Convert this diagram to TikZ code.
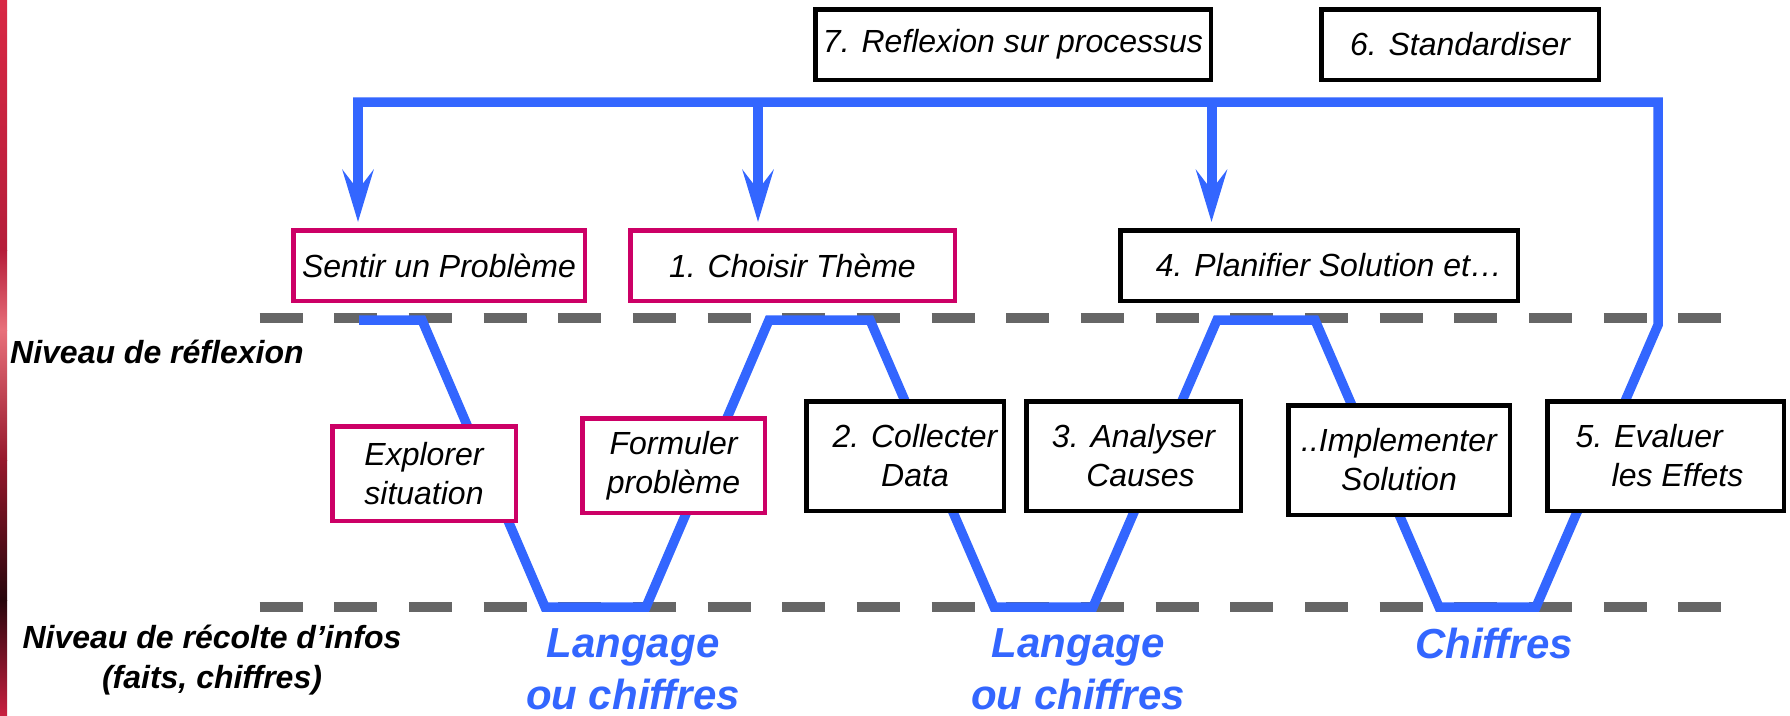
\documentclass[tikz,border=0pt]{standalone}
\usepackage{fontspec}
\setmainfont{Liberation Sans}
\usetikzlibrary{arrows.meta}
\definecolor{myblue}{HTML}{3366FF}
\definecolor{mypink}{HTML}{CC0066}
\definecolor{dashgray}{HTML}{666666}
\begin{document}
\begin{tikzpicture}[x=1pt,y=-1pt,
  boxtext/.style={font=\fontsize{32}{39}\selectfont\itshape},
  blackbox/.style={draw=black, line width=4.5pt, fill=white, inner sep=0pt, align=center, boxtext},
  pinkbox/.style={blackbox, draw=mypink},
  wave/.style={draw=myblue, line width=9.5pt, line join=miter},
  arr/.style={draw=myblue, line width=10pt, -{Stealth[length=52pt,width=31pt,inset=20pt]}, shorten >=6pt},
  levelline/.style={draw=dashgray, line width=10pt, dash pattern=on 43pt off 31.68pt},
  levellabel/.style={font=\fontsize{32}{40}\selectfont\bfseries\itshape, inner sep=0pt, align=center},
  datalabel/.style={text=myblue, font=\fontsize{42}{52}\selectfont\bfseries\itshape, inner sep=0pt, align=center}
]
\useasboundingbox (0,0) rectangle (1790,715);
\fill[white] (0,0) rectangle (1790,715);
% left decorative stripe
\shade[top color={rgb,255:red,216;green,40;blue,68}, bottom color={rgb,255:red,181;green,29;blue,58}] (0,0) rectangle (7,250);
\shade[top color={rgb,255:red,181;green,29;blue,58}, bottom color={rgb,255:red,232;green,112;blue,122}] (0,250) rectangle (7,330);
\shade[top color={rgb,255:red,232;green,112;blue,122}, bottom color={rgb,255:red,150;green,24;blue,44}] (0,330) rectangle (7,460);
\shade[top color={rgb,255:red,150;green,24;blue,44}, bottom color={rgb,255:red,40;green,6;blue,12}] (0,460) rectangle (7,600);
\shade[top color={rgb,255:red,40;green,6;blue,12}, bottom color={rgb,255:red,200;green,32;blue,64}] (0,600) rectangle (7,715);

% level lines
\coordinate (u0) at (259.5,318);
\coordinate (u1) at (1722,318);
\coordinate (d0) at (259.5,607);
\coordinate (d1) at (1722,607);
\draw[levelline] (u0) -- (u1);
\draw[levelline] (d0) -- (d1);

% blue process line
\coordinate (tl) at (358,102);
\coordinate (a2) at (758,102);
\coordinate (a3) at (1211.5,102);
\coordinate (tr) at (1658,102);
\draw[wave] (359,320) -- (422,320) -- (545,607) -- (646,607) -- (769,320) -- (870,320)
  -- (994,607) -- (1093,607) -- (1217,320) -- (1315,320) -- (1439,607) -- (1536,607)
  -- (1658,325) -- (tr) -- (353,102);

% boxes
\node[blackbox, minimum width=395.5pt, minimum height=70.5pt] (b7) at (1013,44.5) {7. Reflexion sur processus};
\node[blackbox, minimum width=277.5pt, minimum height=70.5pt] (b6) at (1460,44.5) {6. Standardiser};
\node[pinkbox, minimum width=291.5pt, minimum height=70.5pt] (sentir) at (439,265.5) {Sentir un Problème};
\node[pinkbox, minimum width=324.5pt, minimum height=70.5pt] (choisir) at (792.5,265.5) {1. Choisir Thème};
\node[blackbox, minimum width=397.5pt, minimum height=70.5pt] (planif) at (1319,265.5) {\hspace*{20pt}4. Planifier Solution et…};
\node[pinkbox, minimum width=183.5pt, minimum height=94.5pt] (explorer) at (424,473.5) {Explorer\\situation};
\node[pinkbox, minimum width=182.5pt, minimum height=94.5pt] (formuler) at (673.5,465.5) {Formuler\\problème};
\node[blackbox, minimum width=197.5pt, minimum height=109.5pt] (collect) at (905,456) {\hspace*{20pt}2. Collecter\\\hspace*{20pt}Data};
\node[blackbox, minimum width=214.5pt, minimum height=109.5pt] (analyse) at (1133.5,456) {3. Analyser\\\hspace*{14pt}Causes};
\node[blackbox, minimum width=221.5pt, minimum height=109.5pt] (implem) at (1399,460) {..Implementer\\Solution};
\node[blackbox, align=left, minimum width=236.5pt, minimum height=109.5pt] (evalue) at (1665.5,456) {\hspace*{-12pt}5. Evaluer\\\hspace*{24pt}les Effets};

% arrows down
\draw[arr] (tl) -- (tl |- sentir.north);
\draw[arr] (a2) -- (a2 |- choisir.north);
\draw[arr] (a3) -- (a3 |- planif.north);

% labels
\node[levellabel, anchor=base west] (lvl1) at (10,363) {Niveau de réflexion};
\node[levellabel] (lvl2) at (212,659.7) {Niveau de récolte d’infos\\(faits, chiffres)};
\node[datalabel] (lang1) at (633,669) {Langage\\ou chiffres};
\node[datalabel] (lang2) at (1078,669) {Langage\\ou chiffres};
\node[datalabel, anchor=base] (chif) at (1494,658) {Chiffres};
\end{tikzpicture}
\end{document}
